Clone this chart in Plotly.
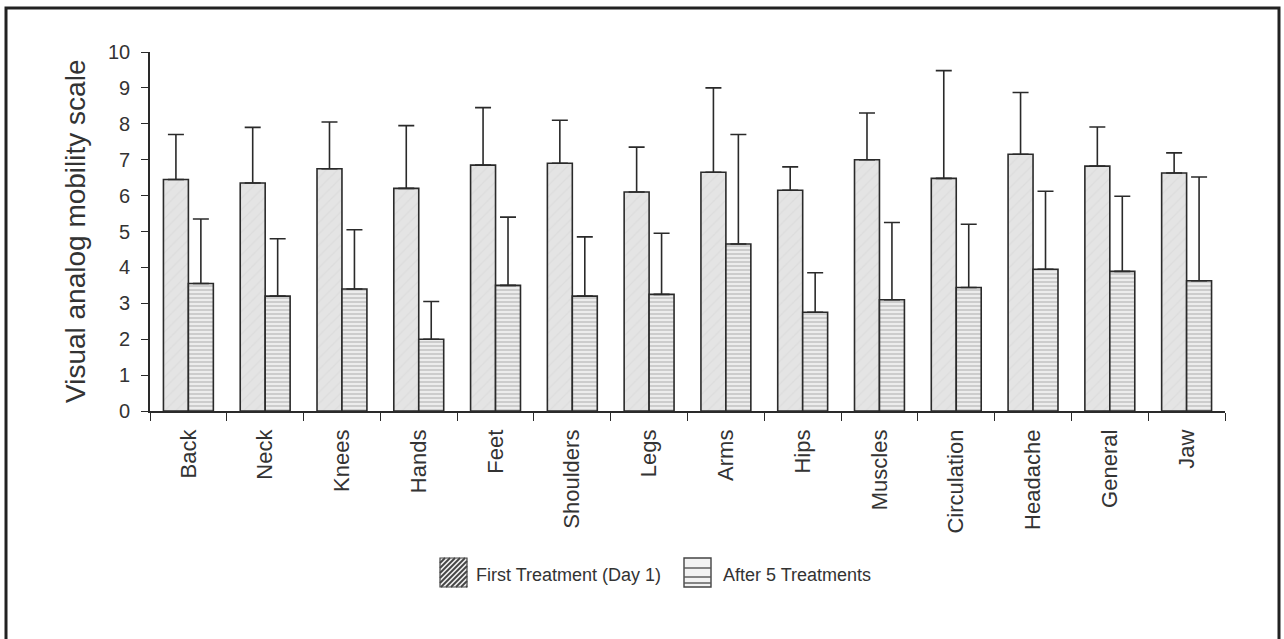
import plotly.graph_objects as go

categories = ["Back", "Neck", "Knees", "Hands", "Feet", "Shoulders", "Legs", "Arms",
              "Hips", "Muscles", "Circulation", "Headache", "General", "Jaw"]
first_mean = [6.45, 6.35, 6.75, 6.2, 6.85, 6.9, 6.1, 6.65, 6.15, 7.0, 6.48, 7.15, 6.82, 6.63]
first_top = [7.7, 7.9, 8.05, 7.95, 8.45, 8.1, 7.35, 9.0, 6.8, 8.3, 9.48, 8.87, 7.91, 7.19]
after_mean = [3.55, 3.2, 3.4, 2.0, 3.5, 3.2, 3.25, 4.65, 2.75, 3.1, 3.44, 3.95, 3.89, 3.63]
after_top = [5.35, 4.8, 5.05, 3.05, 5.4, 4.85, 4.95, 7.7, 3.85, 5.25, 5.2, 6.12, 5.98, 6.52]
series_names = ["First Treatment (Day 1)", "After 5 Treatments"]
y_ticks = list(range(0, 11))

first_err = [t - m for t, m in zip(first_top, first_mean)]
after_err = [t - m for t, m in zip(after_top, after_mean)]

FONT = "Liberation Sans, Arial, sans-serif"
INK = "#2a2a2a"
TXT = "#333333"

fig = go.Figure()
fig.add_trace(go.Bar(
    name=series_names[0], x=categories, y=first_mean,
    marker=dict(color="#e2e2e2", line=dict(color=INK, width=1.6),
                pattern=dict(shape="/", fgcolor="#d4d4d4", bgcolor="#e4e4e4", size=8, solidity=0.15)),
    error_y=dict(type="data", array=first_err, symmetric=False, arrayminus=[0] * len(first_err),
                 color=INK, thickness=1.6, width=8),
))
fig.add_trace(go.Bar(
    name=series_names[1], x=categories, y=after_mean,
    marker=dict(color="#e8e8e8", line=dict(color=INK, width=1.6),
                pattern=dict(shape="-", fgcolor="#808080", bgcolor="#ececec", size=4, solidity=0.3)),
    error_y=dict(type="data", array=after_err, symmetric=False, arrayminus=[0] * len(after_err),
                 color=INK, thickness=1.6, width=8),
))

W, H = 1284, 639
L, T = 150, 52
R = W - 1225
B = H - 411
pw, ph = W - L - R, H - T - B


def px_x(X):
    return (X - L) / pw


def px_y(Y):
    return (H - Y - B) / ph


shapes = [dict(type="rect", xref="paper", yref="paper",
               x0=px_x(6), x1=px_x(1279), y0=px_y(720), y1=px_y(8),
               line=dict(color="#222222", width=3), fillcolor="rgba(0,0,0,0)", layer="below")]

# manual legend swatches
s1x0, s1x1, sy0, sy1 = 440, 467, 558, 587
shapes.append(dict(type="rect", xref="paper", yref="paper", x0=px_x(s1x0), x1=px_x(s1x1),
                   y0=px_y(sy1), y1=px_y(sy0), line=dict(color="#444444", width=1.2),
                   fillcolor="#eeeeee"))
wS, hS = s1x1 - s1x0, sy1 - sy0
for k in range(1, 20):
    d = k * 5
    if d >= wS + hS:
        break
    if d <= hS:
        xa, ya = s1x0, sy0 + d
    else:
        xa, ya = s1x0 + (d - hS), sy1
    if d <= wS:
        xb, yb = s1x0 + d, sy0
    else:
        xb, yb = s1x1, sy0 + (d - wS)
    shapes.append(dict(type="line", xref="paper", yref="paper",
                       x0=px_x(xa), y0=px_y(ya), x1=px_x(xb), y1=px_y(yb),
                       line=dict(color="#444444", width=1.8)))

s2x0, s2x1 = 684, 711
shapes.append(dict(type="rect", xref="paper", yref="paper", x0=px_x(s2x0), x1=px_x(s2x1),
                   y0=px_y(sy1), y1=px_y(sy0), line=dict(color="#444444", width=1.4),
                   fillcolor="#f2f2f2"))
for yy in [568, 577, 583]:
    shapes.append(dict(type="line", xref="paper", yref="paper", x0=px_x(s2x0), x1=px_x(s2x1),
                       y0=px_y(yy), y1=px_y(yy), line=dict(color="#555555", width=1.4)))

annotations = [
    dict(text=series_names[0], xref="paper", yref="paper", x=px_x(474), y=px_y(575),
         xanchor="left", yanchor="middle", showarrow=False,
         font=dict(family=FONT, size=18, color=TXT)),
    dict(text=series_names[1], xref="paper", yref="paper", x=px_x(721), y=px_y(575),
         xanchor="left", yanchor="middle", showarrow=False,
         font=dict(family=FONT, size=18, color=TXT)),
    dict(text="Visual analog mobility scale", xref="paper", yref="paper", x=px_x(75), y=px_y(232),
         xanchor="center", yanchor="middle", textangle=-90, showarrow=False,
         font=dict(family=FONT, size=28, color=TXT)),
]

fig.update_layout(
    width=W, height=H,
    margin=dict(l=L, r=R, t=T, b=B, autoexpand=False),
    paper_bgcolor="white", plot_bgcolor="white",
    barmode="group", bargap=0.35, bargroupgap=0.0,
    font=dict(family=FONT, color=TXT),
    showlegend=False,
    xaxis=dict(showline=True, linecolor=INK, linewidth=1.6, ticks="outside",
               tickson="boundaries", ticklen=8, tickcolor=INK, tickwidth=1.4,
               tickangle=-90, tickfont=dict(size=22, color=TXT), ticklabelstandoff=8,
               showgrid=False, zeroline=False),
    yaxis=dict(range=[0, 10], tickvals=y_ticks, showline=True, linecolor=INK, linewidth=1.6,
               ticks="outside", ticklen=7, tickcolor=INK, tickwidth=1.4, ticklabelstandoff=7,
               tickfont=dict(size=20, color=TXT), showgrid=False, zeroline=False),
    shapes=shapes,
    annotations=annotations,
)

fig.write_html("out.html", config={"displayModeBar": False},
               post_script="document.body.style.margin='0';document.body.style.overflow='hidden';")
